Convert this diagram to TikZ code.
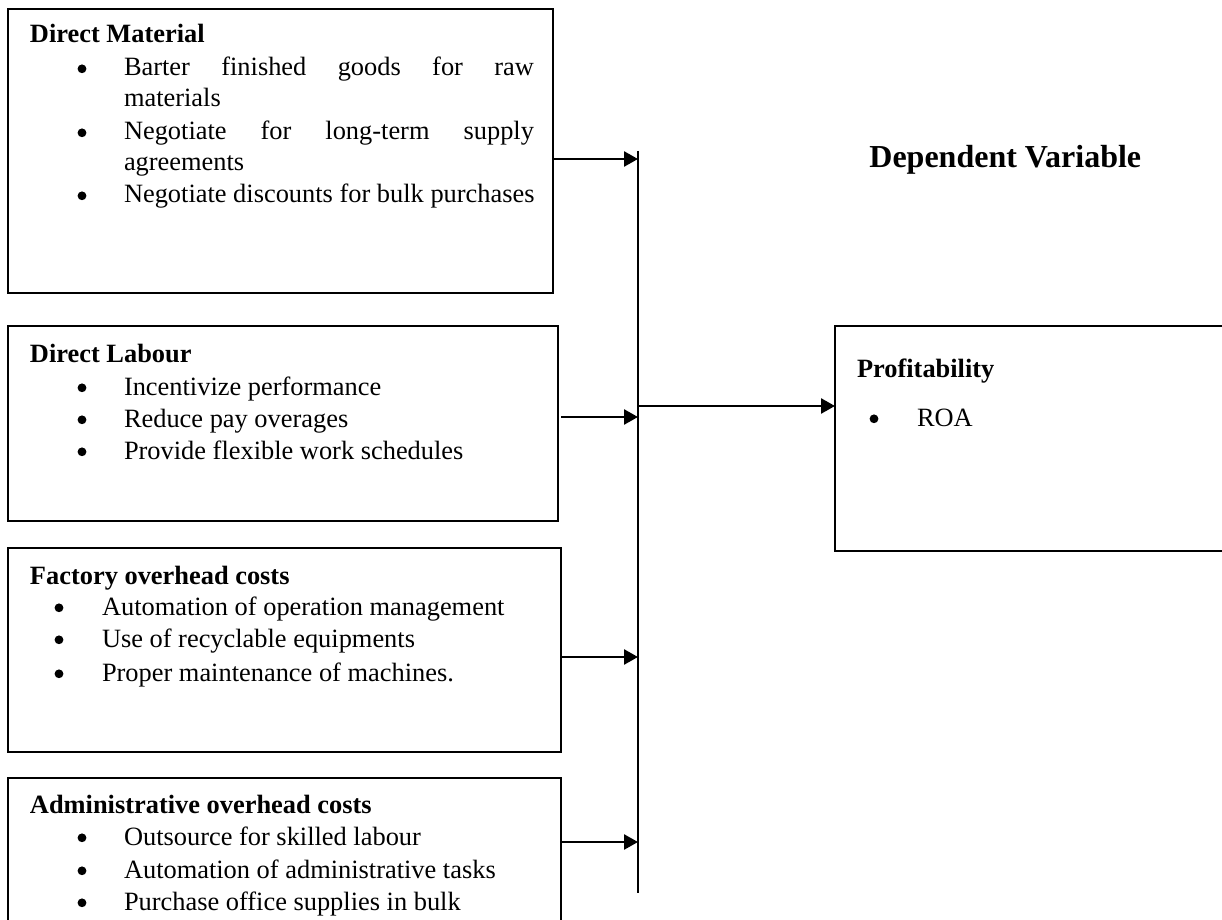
\documentclass[tikz,border=0pt]{standalone}
\usepackage{fontspec}
\setmainfont{Liberation Serif}
\usetikzlibrary{arrows.meta}
\begin{document}
\begin{tikzpicture}[x=0.5pt,y=-0.5pt,
  frame/.style={draw, line width=1pt, anchor=north west, inner sep=0pt, outer sep=0pt},
  txt/.style={anchor=base west, inner sep=0pt, outer sep=0pt, font=\fontsize{13.2pt}{15.9pt}\selectfont},
  ttl/.style={anchor=base west, inner sep=0pt, outer sep=0pt, font=\fontsize{13.2pt}{15.9pt}\selectfont\bfseries},
  bul/.style={circle, fill=black, inner sep=0pt, outer sep=0pt, minimum size=4.4pt, yshift=3.6pt},
  arr/.style={line width=1.3pt, -{Triangle[length=7pt,width=7.5pt]}},
  bus/.style={line width=0.6pt},
  ]
\useasboundingbox (0,0) rectangle (1222,920);
\fill[white] (0,0) rectangle (1222,920);
\clip (0,0) rectangle (1222,920);

% boxes
\node[frame, minimum width=272.5pt, minimum height=142pt] (dm) at (8,9) {};
\node[frame, minimum width=275pt, minimum height=97.5pt] (dl) at (8,326) {};
\node[frame, minimum width=276.5pt, minimum height=102pt] (fo) at (8,548) {};
\node[frame, minimum width=276.5pt, minimum height=90pt] (ao) at (8,778) {};
\node[frame, minimum width=200pt, minimum height=112.5pt] (pr) at (835,326) {};

% Direct Material
\node[ttl] (dmt) at (30,43) {Direct Material};
\node[bul] (dmb1) at (82,76) {};
\node[txt] (dm1) at (124,76) {\hbox to 205pt{Barter\hfill finished\hfill goods\hfill for\hfill raw}};
\node[txt] (dm2) at (124,107) {materials};
\node[bul] (dmb2) at (82,140) {};
\node[txt] (dm3) at (124,140) {\hbox to 205pt{Negotiate\hfill for\hfill long-term\hfill supply}};
\node[txt] (dm4) at (124,170) {agreements};
\node[bul] (dmb3) at (82,203) {};
\node[txt] (dm5) at (124,203) {Negotiate discounts for bulk purchases};

% Direct Labour
\node[ttl] (dlt) at (30,362) {Direct Labour};
\node[bul] (dlb1) at (82,395) {};
\node[txt] (dl1) at (124,395) {Incentivize performance};
\node[bul] (dlb2) at (82,427) {};
\node[txt] (dl2) at (124,427) {Reduce pay overages};
\node[bul] (dlb3) at (82,459) {};
\node[txt] (dl3) at (124,459) {Provide flexible work schedules};

% Factory overhead
\node[ttl] (fot) at (30,584) {Factory overhead costs};
\node[bul] (fob1) at (59,615) {};
\node[txt] (fo1) at (102,615) {Automation of operation management};
\node[bul] (fob2) at (59,647) {};
\node[txt] (fo2) at (102,647) {Use of recyclable equipments};
\node[bul] (fob3) at (59,681) {};
\node[txt] (fo3) at (102,681) {Proper maintenance of machines.};

% Administrative overhead
\node[ttl] (aot) at (30,813) {Administrative overhead costs};
\node[bul] (aob1) at (82,845) {};
\node[txt] (ao1) at (124,845) {Outsource for skilled labour};
\node[bul] (aob2) at (82,878) {};
\node[txt] (ao2) at (124,878) {Automation of administrative tasks};
\node[bul] (aob3) at (82,910) {};
\node[txt] (ao3) at (124,910) {Purchase office supplies in bulk};

% Profitability
\node[ttl] (prt) at (857,377) {Profitability};
\node[bul] (prb1) at (874,426) {};
\node[txt] (pr1) at (917,426) {ROA};

% Heading
\node[anchor=base west, inner sep=0pt, font=\fontsize{16pt}{19pt}\selectfont\bfseries] (dv) at (869,168) {Dependent Variable};

% bus line and connectors
\coordinate (vtop) at (638,151);
\coordinate (vbot) at (638,893);
\coordinate (j1) at (638,159);
\coordinate (j2) at (638,417);
\coordinate (j3) at (638,657);
\coordinate (j4) at (638,842);
\coordinate (jo) at (638,406);
\draw[bus] (vtop) -- (vbot);
\draw[arr] (dm.east |- j1) -- (j1);
\draw[arr, shorten <=1.5pt] (dl.east |- j2) -- (j2);
\draw[arr] (fo.east |- j3) -- (j3);
\draw[arr] (ao.east |- j4) -- (j4);
\draw[arr] (jo) -- (pr.west |- jo);
\end{tikzpicture}
\end{document}
